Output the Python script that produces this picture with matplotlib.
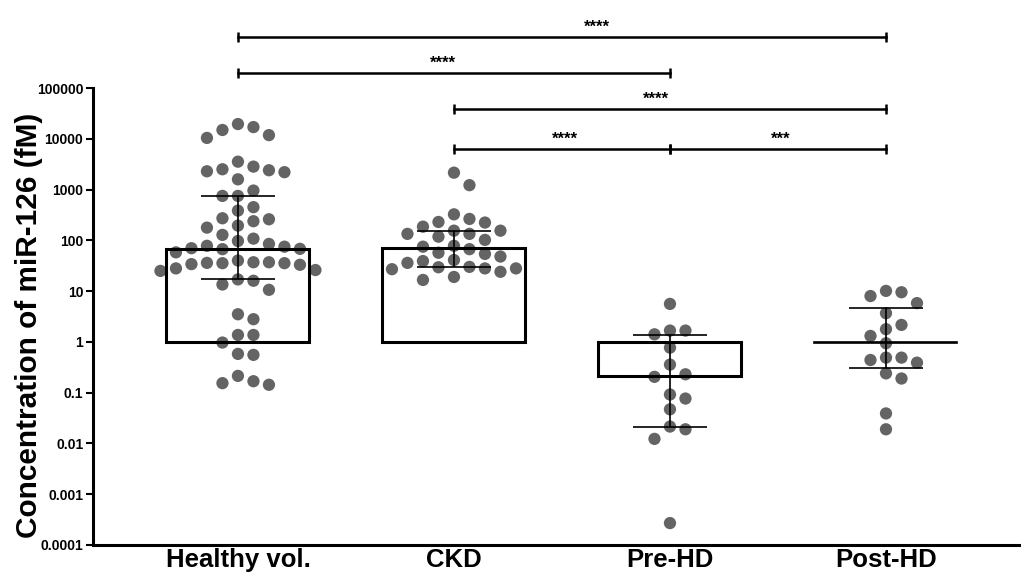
import numpy as np
import matplotlib
matplotlib.use("Agg")
import matplotlib.pyplot as plt
from matplotlib.ticker import FixedLocator, NullLocator

plt.rcParams["font.family"] = ["Liberation Sans", "DejaVu Sans"]

groups = ["Healthy vol.", "CKD", "Pre-HD", "Post-HD"]

# miR-126 concentration (fM)
healthy = [19500, 17000, 14900, 11800, 10400,
           3540, 2830, 2510, 2400, 2290, 2200, 1590,
           955, 750, 750, 450, 385,
           272, 260, 238, 195, 178,
           128, 108, 97,
           85, 78, 75, 70, 68, 67, 58,
           40, 37, 37, 36, 35.5, 35.5, 34, 33,
           28, 26, 25,
           17, 16, 13.5, 10.6,
           3.5, 2.8, 1.37, 1.37, 0.97, 0.58, 0.555, 0.214, 0.168, 0.154, 0.143]
ckd = [2150, 1220, 325, 264, 230, 224, 186, 155, 155, 134, 134, 118, 102,
       78, 75, 67, 57, 54, 48, 41, 39, 36, 30, 29.5, 28, 28, 27, 24, 19, 16.6]
pre_hd = [5.6, 1.67, 1.67, 1.41, 0.77, 0.357, 0.23, 0.205, 0.092, 0.0766,
          0.047, 0.0215, 0.019, 0.0123, 0.00027]
post_hd = [10.1, 9.5, 8.0, 5.8, 3.67, 2.16, 1.78, 1.31, 0.94, 0.49, 0.49,
           0.44, 0.39, 0.24, 0.19, 0.039, 0.019]
series = [healthy, ckd, pre_hd, post_hd]

medians = [68, 71, 0.214, 0.96]
q1 = [17, 29.5, 0.0215, 0.31]
q3 = [750, 155, 1.37, 4.6]

yticks = [1e5, 1e4, 1e3, 1e2, 1e1, 1, 0.1, 0.01, 0.001, 0.0001]
ytick_labels = ["100000", "10000", "1000", "100", "10", "1",
                "0.1", "0.01", "0.001", "0.0001"]

# (from, to, level, label, label x)
brackets = [
    (0, 3, 1.0e6, "****", 1.66),
    (0, 2, 1.97e5, "****", 0.95),
    (1, 3, 3.86e4, "****", 1.935),
    (1, 2, 6.3e3, "****", 1.515),
    (2, 3, 6.3e3, "***", 2.513),
]

DOT = "#646464"


def swarm_x(ax, xc, values, diam=14.0, step=15.5):
    """Greedy beeswarm in pixel space, returns x positions in data units."""
    pts = ax.transData.transform(np.column_stack([np.full(len(values), xc), values]))
    x0 = pts[0, 0]
    order = np.argsort(-pts[:, 1])
    placed = []
    xs = np.zeros(len(values))
    cands = [0]
    for k in range(1, 30):
        cands += [k, -k]
    for i in order:
        y = pts[i, 1]
        for k in cands:
            cx = x0 + k * step
            if all((cx - px) ** 2 + (y - py) ** 2 >= diam ** 2 for px, py in placed):
                break
        placed.append((cx, y))
        xs[i] = cx
    inv = ax.transData.inverted()
    return inv.transform(np.column_stack([xs, pts[:, 1]]))[:, 0]


fig = plt.figure(figsize=(10.21, 5.73), dpi=100)
ax = fig.add_axes([93 / 1021, 1 - 545 / 573, (1021 - 93) / 1021, (545 - 88) / 573])
ax.set_yscale("log")
ax.set_ylim(1e-4, 1e5)
ax.set_xlim(-0.671, 3.625)

x = np.arange(len(groups))
width = 0.662
for i, m in enumerate(medians):
    lw = 2.2 if abs(np.log10(m)) > 0.05 else 1.2
    ax.bar(x[i], m - 1, bottom=1, width=width, facecolor="white",
           edgecolor="none", zorder=1)
    ax.bar(x[i], m - 1, bottom=1, width=width, facecolor="none",
           edgecolor="black", linewidth=lw, zorder=3)

for i, vals in enumerate(series):
    xs = swarm_x(ax, x[i], vals)
    ax.scatter(xs, vals, s=78, color=DOT, edgecolors="none", zorder=2)

cap = 0.171
ax.vlines(x, q1, q3, color="black", lw=1.2, zorder=4)
ax.hlines(q1, x - cap, x + cap, color="black", lw=1.2, zorder=4)
ax.hlines(q3, x - cap, x + cap, color="black", lw=1.2, zorder=4)

for a, b, lvl, lab, lx in brackets:
    ax.plot([a, b], [lvl, lvl], color="black", lw=1.8, marker="|", ms=7,
            mew=1.8, clip_on=False, zorder=5)
    ax.annotate(lab, (lx, lvl), xytext=(0, 4), textcoords="offset points",
                ha="center", va="baseline", fontsize=12, fontweight="bold",
                annotation_clip=False)

ax.yaxis.set_major_locator(FixedLocator(yticks))
ax.yaxis.set_minor_locator(NullLocator())
ax.set_yticklabels(ytick_labels)
ax.set_xticks(x)
ax.set_xticklabels(groups)
for t in ax.get_yticklabels():
    t.set_fontweight("bold")
    t.set_fontsize(10)
for t in ax.get_xticklabels():
    t.set_fontweight("bold")
    t.set_fontsize(18.5)
ax.tick_params(axis="y", length=5, width=1.5, pad=2)
ax.tick_params(axis="x", length=0, pad=2.5)

for s in ["top", "right"]:
    ax.spines[s].set_visible(False)
for s in ["left", "bottom"]:
    ax.spines[s].set_linewidth(2.2)

fig.text(29 / 1021, 1 - 325 / 573, "Concentration of miR-126 (fM)",
         rotation=90, ha="center", va="center", fontsize=21.4, fontweight="bold")

fig.savefig("out.png", dpi=100)
